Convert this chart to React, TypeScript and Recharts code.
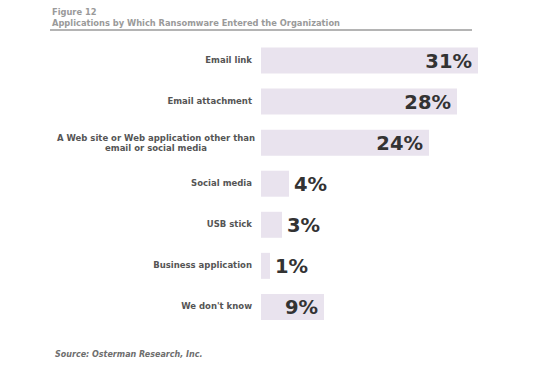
import { BarChart, Bar, XAxis, YAxis, LabelList } from 'recharts';

const categories = [
  'Email link',
  'Email attachment',
  'A Web site or Web application other than|email or social media',
  'Social media',
  'USB stick',
  'Business application',
  "We don't know",
];
const shares = [31, 28, 24, 4, 3, 1, 9];

const data = categories.map((name, i) => ({ name, value: shares[i] }));

const font = '"DejaVu Sans", Verdana, sans-serif';

// category labels: right aligned, two-line label centred as a block
function CategoryTick(props: any) {
  const { x, y, payload } = props;
  const lines = String(payload.value).split('|');
  if (lines.length === 1) {
    return (
      <text x={x} y={y} dy={3} textAnchor="end" fontFamily={font} fontSize={8.5} fontWeight="bold" fill="#555">
        {lines[0]}
      </text>
    );
  }
  return (
    <text x={x - 96} y={y} textAnchor="middle" fontFamily={font} fontSize={8.5} fontWeight="bold" fill="#555">
      {lines.map((l, i) => (
        <tspan key={i} x={x - 96} dy={i === 0 ? -1.5 : 10}>{l}</tspan>
      ))}
    </text>
  );
}

// big value labels: inside the bar end for long bars, just after it for short ones
function ValueLabel(props: any) {
  const { x, y, width, height, value } = props;
  const inside = value >= 9;
  return (
    <text
      x={inside ? x + width - 6 : x + width + 5}
      y={y + height / 2}
      dy={7}
      textAnchor={inside ? 'end' : 'start'}
      fontFamily={font}
      fontSize={19.5}
      fontWeight="bold"
      fill="#333"
    >
      {value}%
    </text>
  );
}

export default function App() {
  return (
    <div style={{ position: 'absolute', left: 0, top: 0, width: 560, height: 371, background: '#fff', fontFamily: font }}>
      <div style={{ position: 'absolute', left: 52, top: 7, fontSize: 8.3, fontWeight: 'bold', color: '#9a9a9a', lineHeight: '10.5px' }}>
        Figure 12
        <br />
        Applications by Which Ransomware Entered the Organization
      </div>
      <div style={{ position: 'absolute', left: 50, top: 29, width: 422, height: 2, background: '#b4b4b4' }} />

      <BarChart
        width={560}
        height={371}
        data={data}
        layout="vertical"
        margin={{ top: 39.5, right: 19, bottom: 44, left: 0 }}
      >
        <XAxis type="number" domain={[0, 40]} hide />
        <YAxis
          type="category"
          dataKey="name"
          width={261}
          tickSize={0}
          tickMargin={9}
          axisLine={false}
          tickLine={false}
          interval={0}
          tick={<CategoryTick />}
        />
        <Bar dataKey="value" fill="#e9e3ee" barSize={26} minPointSize={9} isAnimationActive={false}>
          <LabelList dataKey="value" content={<ValueLabel />} />
        </Bar>
      </BarChart>

      <div style={{ position: 'absolute', left: 55, top: 350, fontSize: 8, fontWeight: 'bold', fontStyle: 'italic', color: '#6e6e6e' }}>
        Source: Osterman Research, Inc.
      </div>
    </div>
  );
}
